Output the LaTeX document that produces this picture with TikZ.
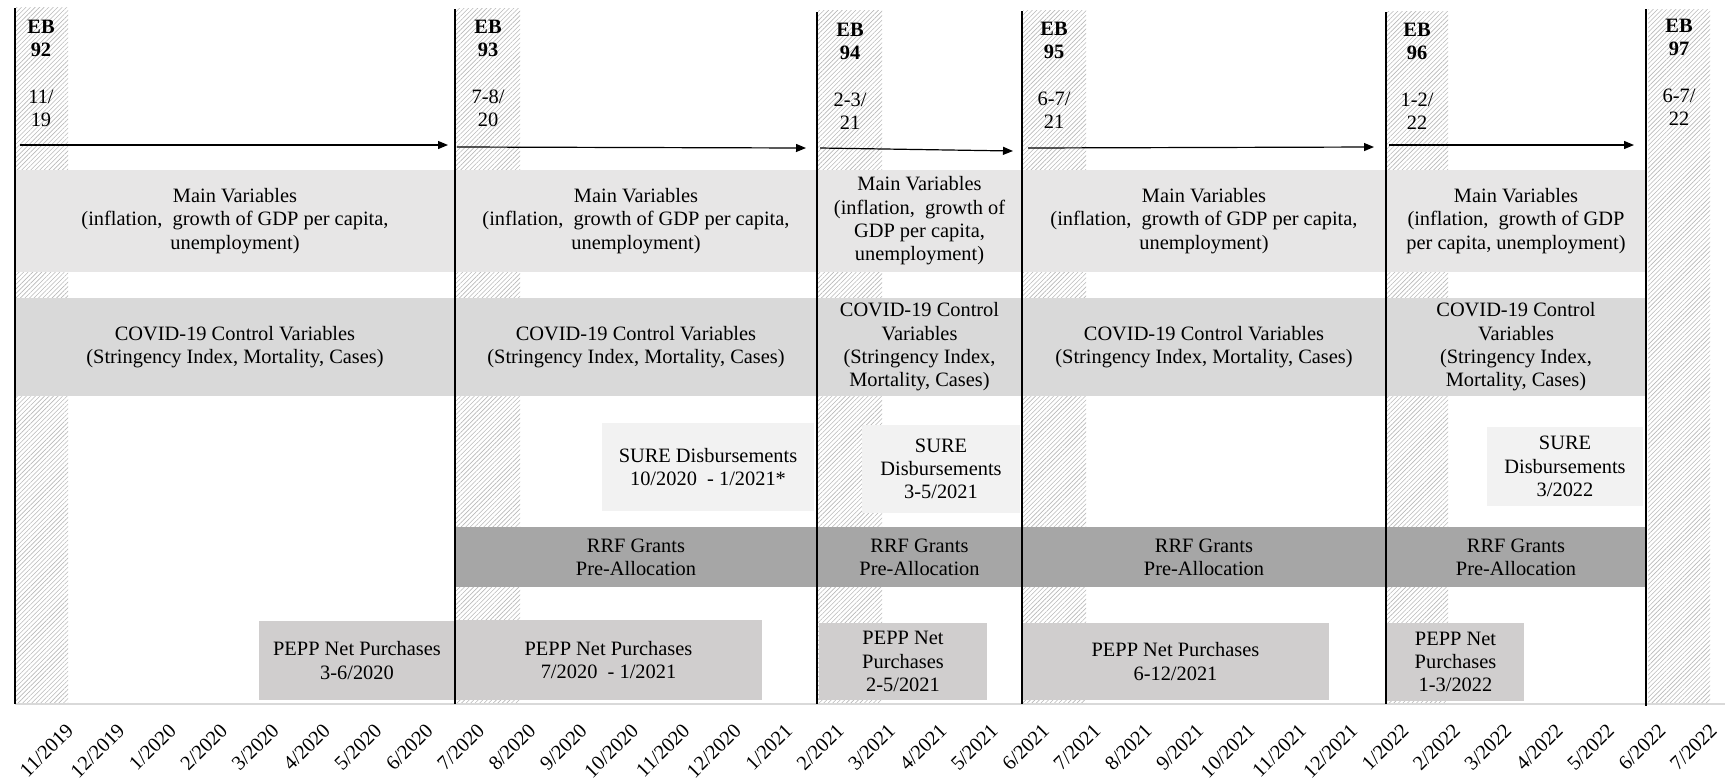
\documentclass[tikz,border=0pt]{standalone}
\usepackage{fontspec}
\setmainfont{Liberation Serif}
\usetikzlibrary{arrows.meta,patterns.meta}

\definecolor{mainfill}{RGB}{231,230,230}
\definecolor{covidfill}{RGB}{217,217,217}
\definecolor{surefill}{RGB}{242,242,242}
\definecolor{rrffill}{RGB}{166,166,166}
\definecolor{peppfill}{RGB}{208,206,206}
\definecolor{axisgray}{RGB}{217,217,217}

\begin{document}
\begin{tikzpicture}[
  x=1pt, y=-1pt,
  font=\fontsize{20.4pt}{23.3pt}\selectfont,
  hatch/.style={pattern={Lines[angle=45,distance=3.2pt,line width=0.6pt]},
                pattern color=black!28},
  ebline/.style={line width=2.4pt},
  eblbl/.style={anchor=north,align=center,inner sep=0pt},
  arr/.style={-{Triangle[length=10pt,width=8pt]},line width=1.2pt},
  band/.style={inner sep=0pt,align=center,text centered},
  mainv/.style={band,fill=mainfill,minimum height=102pt},
  covid/.style={band,fill=covidfill,minimum height=98pt},
  sure/.style={band,fill=surefill},
  rrf/.style={band,fill=rrffill,minimum height=60pt},
  pepp/.style={band,fill=peppfill},
  month/.style={rotate=45,anchor=east,inner sep=0pt}
]
\useasboundingbox (0,0) rectangle (1725,780);

% Survey waves (hatched strips)
\path[hatch] (15,7)   rectangle (68,704);
\path[hatch] (456,8)  rectangle (520,704);
\path[hatch] (818,10) rectangle (882,704);
\path[hatch] (1023,10) rectangle (1086,704);
\path[hatch] (1387,11) rectangle (1448,704);
\path[hatch] (1648,9) rectangle (1710,704);

% Axis
\draw[axisgray,line width=1.5pt] (15,704) -- (1725,704);

% Main variables
\node[mainv,minimum width=440pt] (mv1) at (235,221)
  {Main Variables\\(inflation,\ \ growth of GDP per capita,\\unemployment)};
\node[mainv,minimum width=362pt] (mv2) at (636,221)
  {Main Variables\\(inflation,\ \ growth of GDP per capita,\\unemployment)};
\node[mainv,minimum width=205pt] (mv3) at (919.5,221)
  {Main Variables\\(inflation,\ \ growth of\\GDP per capita,\\unemployment)};
\node[mainv,minimum width=364pt] (mv4) at (1204,221)
  {Main Variables\\(inflation,\ \ growth of GDP per capita,\\unemployment)};
\node[mainv,minimum width=260pt] (mv5) at (1516,221)
  {Main Variables\\(inflation,\ \ growth of GDP\\per capita, unemployment)};

% COVID-19 controls
\node[covid,minimum width=440pt] (cv1) at (235,347)
  {COVID-19 Control Variables\\(Stringency Index, Mortality, Cases)};
\node[covid,minimum width=362pt] (cv2) at (636,347)
  {COVID-19 Control Variables\\(Stringency Index, Mortality, Cases)};
\node[covid,minimum width=205pt] (cv3) at (919.5,347)
  {COVID-19 Control\\Variables\\(Stringency Index,\\Mortality, Cases)};
\node[covid,minimum width=364pt] (cv4) at (1204,347)
  {COVID-19 Control Variables\\(Stringency Index, Mortality, Cases)};
\node[covid,minimum width=260pt] (cv5) at (1516,347)
  {COVID-19 Control\\Variables\\(Stringency Index,\\Mortality, Cases)};

% SURE
\node[sure,minimum width=212pt,minimum height=88pt] (sure1) at (708,467)
  {SURE Disbursements\\10/2020\ \ - 1/2021*};
\node[sure,minimum width=158pt,minimum height=88pt] (sure2) at (941,469)
  {SURE\\Disbursements\\3-5/2021};
\node[sure,minimum width=156pt,minimum height=79pt] (sure3) at (1565,466.5)
  {SURE\\Disbursements\\3/2022};

% RRF
\node[rrf,minimum width=362pt] (rrf1) at (636,557)  {RRF Grants\\Pre-Allocation};
\node[rrf,minimum width=205pt] (rrf2) at (919.5,557) {RRF Grants\\Pre-Allocation};
\node[rrf,minimum width=364pt] (rrf3) at (1204,557) {RRF Grants\\Pre-Allocation};
\node[rrf,minimum width=260pt] (rrf4) at (1516,557) {RRF Grants\\Pre-Allocation};

% PEPP
\node[pepp,minimum width=196pt,minimum height=79pt] (pepp1) at (357,660.5)
  {PEPP Net Purchases\\3-6/2020};
\node[pepp,minimum width=307pt,minimum height=80pt] (pepp2) at (608.5,660)
  {PEPP Net Purchases\\7/2020\ \ - 1/2021};
\node[pepp,minimum width=168pt,minimum height=77pt] (pepp3) at (903,661.5)
  {PEPP Net\\Purchases\\2-5/2021};
\node[pepp,minimum width=307pt,minimum height=77pt] (pepp4) at (1175.5,661.5)
  {PEPP Net Purchases\\6-12/2021};
\node[pepp,minimum width=137pt,minimum height=78pt] (pepp5) at (1455.5,662)
  {PEPP Net\\Purchases\\1-3/2022};

% Wave lines
\draw[ebline] (15,8)    -- (15,704);
\draw[ebline] (455,9)   -- (455,704);
\draw[ebline] (817,12)  -- (817,704);
\draw[ebline] (1022,11) -- (1022,704);
\draw[ebline] (1386,12) -- (1386,704);
\draw[ebline] (1646,9)  -- (1646,706);

% Wave labels
\node[eblbl] (eb92) at (41,20)   {\textbf{EB}\\\textbf{92}\\[23.3pt]11/\\19};
\node[eblbl] (eb93) at (488,20)  {\textbf{EB}\\\textbf{93}\\[23.3pt]7-8/\\20};
\node[eblbl] (eb94) at (850,23)  {\textbf{EB}\\\textbf{94}\\[23.3pt]2-3/\\21};
\node[eblbl] (eb95) at (1054,22) {\textbf{EB}\\\textbf{95}\\[23.3pt]6-7/\\21};
\node[eblbl] (eb96) at (1417,23) {\textbf{EB}\\\textbf{96}\\[23.3pt]1-2/\\22};
\node[eblbl] (eb97) at (1679,19) {\textbf{EB}\\\textbf{97}\\[23.3pt]6-7/\\22};

% Arrows between waves
\coordinate (s1) at (20,145);   \coordinate (e1) at (448,145);
\coordinate (s2) at (457,147);  \coordinate (e2) at (806,148);
\coordinate (s3) at (820,148);  \coordinate (e3) at (1013,151);
\coordinate (s4) at (1028,148); \coordinate (e4) at (1374,147);
\coordinate (s5) at (1389,145); \coordinate (e5) at (1634,145);
\draw[arr] (s1) -- (e1);
\draw[arr] (s2) -- (e2);
\draw[arr] (s3) -- (e3);
\draw[arr] (s4) -- (e4);
\draw[arr] (s5) -- (e5);

% Months
\foreach \k in {0,...,32}{
  \pgfmathtruncatemacro{\mo}{mod(\k+10,12)+1}
  \pgfmathtruncatemacro{\yr}{2019+floor((\k+10)/12)}
  \node[month] (m\k) at ({70+51.36*\k},727) {\mo/\yr};
}

\end{tikzpicture}
\end{document}
